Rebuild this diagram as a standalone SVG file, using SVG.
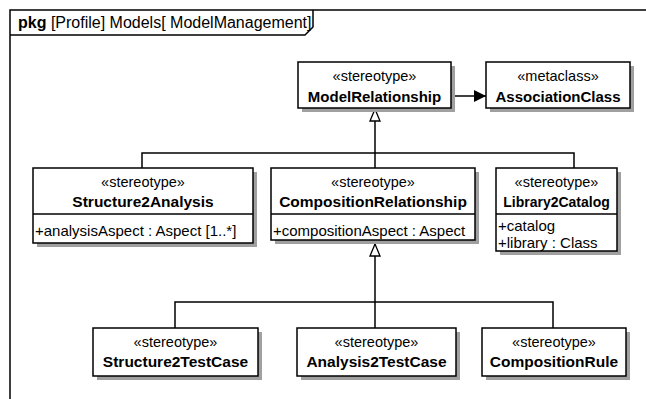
<svg xmlns="http://www.w3.org/2000/svg" width="646" height="399" viewBox="0 0 646 399">
<defs>
<style>
text{font-family:"Liberation Sans",Arial,sans-serif;fill:#000}
.st{font-size:14.5px;text-anchor:middle}
.nm{font-size:15.5px;font-weight:bold;text-anchor:middle}
.at{font-size:15px}
.box{fill:#fff;stroke:#000;stroke-width:1.5}
.sh{fill:#a0a0a0}
.ln{fill:none;stroke:#000;stroke-width:1.5}
</style>
<marker id="gen" viewBox="0 0 14 12" refX="13" refY="6" markerWidth="14" markerHeight="12" markerUnits="userSpaceOnUse" orient="auto">
<path d="M1,1 L13,6 L1,11 Z" fill="#fff" stroke="#000" stroke-width="1.3"/>
</marker>
<marker id="arr" viewBox="0 0 12 12" refX="12" refY="6" markerWidth="12" markerHeight="12" markerUnits="userSpaceOnUse" orient="auto">
<path d="M0,0 L12,6 L0,12 Z" fill="#000"/>
</marker>
</defs>
<rect width="646" height="399" fill="#fff"/>
<g id="frame">
<path class="ln" d="M10,399 L10,10 L646,10"/>
<path class="ln" d="M10,35 L305,35 L313,27 L313,10"/>
<text x="18" y="28" font-size="16"><tspan font-weight="bold">pkg</tspan>  [Profile] Models[ ModelManagement]</text>
</g>
<g id="connectors">
<path class="ln" d="M452,96 L486,96" marker-end="url(#arr)"/>
<path class="ln" d="M142,168 L142,153 L574,153 L574,168"/>
<path class="ln" d="M375,168 L375,109" marker-end="url(#gen)"/>
<path class="ln" d="M175,328 L175,302 L553,302 L553,328"/>
<path class="ln" d="M375,328 L375,244" marker-end="url(#gen)"/>
</g>
<g id="ModelRelationship">
<rect class="sh" x="302" y="66" width="153" height="46"/>
<rect class="box" x="298" y="62" width="153" height="46"/>
<text class="st" x="374.5" y="81">«stereotype»</text>
<text class="nm" x="374.5" y="102" style="font-size:15px">ModelRelationship</text>
</g>
<g id="AssociationClass">
<rect class="sh" x="490" y="66" width="144" height="46"/>
<rect class="box" x="486" y="62" width="144" height="46"/>
<text class="st" x="558" y="81">«metaclass»</text>
<text class="nm" x="558" y="102" style="font-size:15px">AssociationClass</text>
</g>
<g id="Structure2Analysis">
<rect class="sh" x="37" y="172" width="220" height="75"/>
<rect class="box" x="33" y="168" width="220" height="75"/>
<line class="ln" x1="33" y1="214" x2="253" y2="214"/>
<text class="st" x="143" y="187">«stereotype»</text>
<text class="nm" x="143" y="207">Structure2Analysis</text>
<text class="at" x="35" y="236">+analysisAspect : Aspect [1..*]</text>
</g>
<g id="CompositionRelationship">
<rect class="sh" x="275" y="172" width="204" height="72"/>
<rect class="box" x="271" y="168" width="204" height="72"/>
<line class="ln" x1="271" y1="214" x2="475" y2="214"/>
<text class="st" x="373" y="187">«stereotype»</text>
<text class="nm" x="373" y="207">CompositionRelationship</text>
<text class="at" x="273" y="236">+compositionAspect : Aspect</text>
</g>
<g id="Library2Catalog">
<rect class="sh" x="500" y="172" width="121" height="83"/>
<rect class="box" x="496" y="168" width="121" height="83"/>
<line class="ln" x1="496" y1="214" x2="617" y2="214"/>
<text class="st" x="556.5" y="187">«stereotype»</text>
<text class="nm" x="556.5" y="207" style="font-size:14px">Library2Catalog</text>
<text class="at" x="498" y="231">+catalog</text>
<text class="at" x="498" y="248">+library : Class</text>
</g>
<g id="Structure2TestCase">
<rect class="sh" x="97" y="332" width="165" height="48"/>
<rect class="box" x="93" y="328" width="165" height="48"/>
<text class="st" x="175.5" y="347">«stereotype»</text>
<text class="nm" x="175.5" y="367">Structure2TestCase</text>
</g>
<g id="Analysis2TestCase">
<rect class="sh" x="301" y="332" width="159" height="48"/>
<rect class="box" x="297" y="328" width="159" height="48"/>
<text class="st" x="376.5" y="347">«stereotype»</text>
<text class="nm" x="376.5" y="367">Analysis2TestCase</text>
</g>
<g id="CompositionRule">
<rect class="sh" x="486" y="332" width="144" height="48"/>
<rect class="box" x="482" y="328" width="144" height="48"/>
<text class="st" x="554" y="347">«stereotype»</text>
<text class="nm" x="554" y="367">CompositionRule</text>
</g>
</svg>
